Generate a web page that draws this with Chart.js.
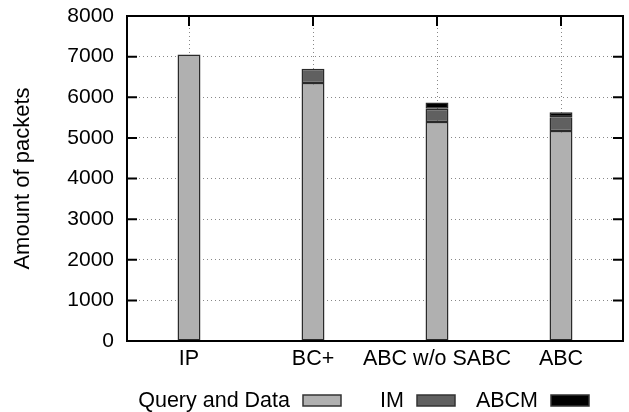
<!DOCTYPE html>
<html lang="en">

<head>
    <meta charset="UTF-8">
    <title>Amount of packets</title>
    <script src="https://cdn.jsdelivr.net/npm/chart.js"></script>
    <style>
        body {
            margin: 0;
            padding: 0;
            background: #fff;
        }

        canvas {
            display: block;
        }
    </style>
</head>

<body>
    <canvas id="myChart" width="629" height="412"></canvas>

    <script>
        const categories = ['IP', 'BC+', 'ABC w/o SABC', 'ABC'];
        const queryData = [7050, 6350, 5390, 5170];
        const imData = [null, 350, 330, 340];
        const abcmData = [null, null, 150, 120];
        const seriesNames = ['Query and Data', 'IM', 'ABCM'];
        const seriesColors = ['#b0b0b0', '#606060', '#000000'];

        const fontFamily = "'Liberation Sans', Arial, sans-serif";

        // gnuplot style frame with ticks pointing inwards
        const framePlugin = {
            id: 'frame',
            beforeDatasetsDraw(chart) {
                const ctx = chart.ctx;
                const area = chart.chartArea;
                const y = chart.scales.y;
                const x = chart.scales.x;
                ctx.save();
                ctx.strokeStyle = '#000';
                ctx.lineWidth = 2;
                ctx.beginPath();
                y.ticks.forEach(t => {
                    const py = y.getPixelForValue(t.value);
                    ctx.moveTo(area.left, py);
                    ctx.lineTo(area.left + 10, py);
                    ctx.moveTo(area.right, py);
                    ctx.lineTo(area.right - 10, py);
                });
                x.ticks.forEach((t, i) => {
                    const px = x.getPixelForTick(i);
                    ctx.moveTo(px, area.top);
                    ctx.lineTo(px, area.top + 10);
                    ctx.moveTo(px, area.bottom);
                    ctx.lineTo(px, area.bottom - 10);
                });
                ctx.stroke();
                ctx.restore();
            },
            afterDraw(chart) {
                const ctx = chart.ctx;
                const area = chart.chartArea;
                ctx.save();
                ctx.strokeStyle = '#000';
                ctx.lineWidth = 2;
                ctx.strokeRect(area.left, area.top, area.right - area.left, area.bottom - area.top);
                ctx.restore();
            }
        };

        // legend: text first, then the sample box
        const legendPlugin = {
            id: 'keyLegend',
            afterDraw(chart) {
                const ctx = chart.ctx;
                const textRight = [290, 404, 538];
                ctx.save();
                ctx.font = '21.5px ' + fontFamily;
                ctx.textAlign = 'right';
                ctx.textBaseline = 'middle';
                chart.data.datasets.forEach((ds, i) => {
                    ctx.fillStyle = '#000';
                    ctx.fillText(ds.label, textRight[i], 401);
                    const bx = textRight[i] + 13;
                    ctx.fillStyle = ds.backgroundColor;
                    ctx.fillRect(bx, 395, 38, 11);
                    ctx.strokeStyle = '#333';
                    ctx.lineWidth = 1.5;
                    ctx.strokeRect(bx, 395, 38, 11);
                });
                ctx.restore();
            }
        };

        const ctx = document.getElementById('myChart').getContext('2d');

        const chart = new Chart(ctx, {
            type: 'bar',
            data: {
                labels: categories,
                datasets: [queryData, imData, abcmData].map((d, i) => ({
                    label: seriesNames[i],
                    data: d,
                    backgroundColor: seriesColors[i],
                    borderColor: '#2a2a2a',
                    borderWidth: 1.5,
                    borderSkipped: false,
                    categoryPercentage: 1,
                    barPercentage: 0.185
                }))
            },
            options: {
                responsive: false,
                animation: false,
                devicePixelRatio: 1,
                layout: {
                    padding: { left: 0, right: 6, top: 16, bottom: 0 }
                },
                plugins: {
                    legend: { display: false },
                    tooltip: { enabled: false }
                },
                scales: {
                    x: {
                        stacked: true,
                        grid: {
                            offset: false,
                            drawTicks: false,
                            color: '#888',
                            lineWidth: 1
                        },
                        border: { display: false, dash: [1, 3] },
                        ticks: {
                            padding: 5,
                            autoSkip: false,
                            maxRotation: 0,
                            minRotation: 0,
                            color: '#000',
                            font: { family: fontFamily, size: 21.5 }
                        },
                        afterFit(scale) {
                            scale.height = 71;
                            scale.paddingRight = 0;
                            scale.paddingLeft = 0;
                        }
                    },
                    y: {
                        stacked: true,
                        min: 0,
                        max: 8000,
                        grid: {
                            drawTicks: false,
                            color: '#888',
                            lineWidth: 1
                        },
                        border: { display: false, dash: [1, 3] },
                        ticks: {
                            stepSize: 1000,
                            padding: 13,
                            color: '#000',
                            font: { family: fontFamily, size: 21 },
                            callback: v => String(v)
                        },
                        title: {
                            display: true,
                            text: 'Amount of packets',
                            color: '#000',
                            padding: { top: 10, bottom: 0 },
                            font: { family: fontFamily, size: 22 }
                        },
                        afterFit(scale) {
                            scale.width = 127;
                            scale.paddingTop = 0;
                            scale.paddingBottom = 0;
                        }
                    }
                }
            },
            plugins: [framePlugin, legendPlugin]
        });
    </script>

</body>

</html>
